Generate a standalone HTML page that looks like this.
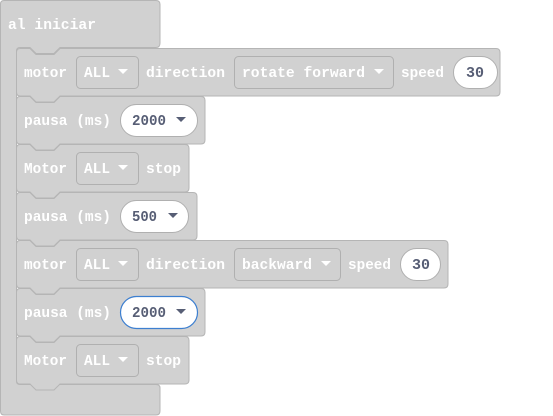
<!DOCTYPE html>
<html><head><meta charset="utf-8"><style>
html,body{margin:0;padding:0;background:#fff;width:553px;height:416px;overflow:hidden}
.w{fill:#fff}.d{fill:#575e75}
.b{fill:#d1d1d1;stroke:#b5b5b5;stroke-width:1}
.dd{fill:#d1d1d1;stroke:#b0b0b0;stroke-width:1}
.p{fill:#fff;stroke:#b0b0b0;stroke-width:1}
</style></head><body>
<svg width="553" height="416" viewBox="0 0 553 416" xmlns="http://www.w3.org/2000/svg">
<path class="b" d="M4,0.5 H156 Q160,0.5 160,4.5 V43 Q160,47.5 156,47.5 H60 L54,53.5 H36 L30,47.5 H20 Q16.5,47.5 16.5,51 V381 Q16.5,384.5 20,384.5 H156 Q160,384.5 160,388 V411 Q160,415 156,415 H4 Q0.5,415 0.5,411 V4 Q0.5,0.5 4,0.5 Z"/>
<path class="b" d="M20,48.5 H30 L36,54.5 H54 L60,48.5 H496 Q500,48.5 500,52.5 V92 Q500,96 496,96 H60 L54,102 H36 L30,96 H20 Q16.5,96 16.5,92 V52.5 Q16.5,48.5 20,48.5 Z"/>
<rect class="dd" x="76.5" y="56.5" width="62" height="32" rx="4"/>
<path class="w" d="M118,69 h10 l-5,5 z"/>
<rect class="dd" x="234.5" y="56.5" width="159" height="32" rx="4"/>
<path class="w" d="M374,69 h10 l-5,5 z"/>
<rect class="p" x="453.5" y="56.5" width="44" height="32" rx="16"/>
<path class="b" d="M20,96.5 H30 L36,102.5 H54 L60,96.5 H201 Q205,96.5 205,100.5 V140 Q205,144 201,144 H60 L54,150 H36 L30,144 H20 Q16.5,144 16.5,140 V100.5 Q16.5,96.5 20,96.5 Z"/>
<rect class="p" x="120.5" y="104.5" width="77" height="32" rx="16"/>
<path class="d" d="M176,117 h10 l-5,5 z"/>
<path class="b" d="M20,144.5 H30 L36,150.5 H54 L60,144.5 H185 Q189,144.5 189,148.5 V188 Q189,192 185,192 H60 L54,198 H36 L30,192 H20 Q16.5,192 16.5,188 V148.5 Q16.5,144.5 20,144.5 Z"/>
<rect class="dd" x="76.5" y="152.5" width="62" height="32" rx="4"/>
<path class="w" d="M118,165 h10 l-5,5 z"/>
<path class="b" d="M20,192.5 H30 L36,198.5 H54 L60,192.5 H193 Q197,192.5 197,196.5 V236 Q197,240 193,240 H60 L54,246 H36 L30,240 H20 Q16.5,240 16.5,236 V196.5 Q16.5,192.5 20,192.5 Z"/>
<rect class="p" x="120.5" y="200.5" width="68" height="32" rx="16"/>
<path class="d" d="M168,213 h10 l-5,5 z"/>
<path class="b" d="M20,240.5 H30 L36,246.5 H54 L60,240.5 H444 Q448,240.5 448,244.5 V284 Q448,288 444,288 H60 L54,294 H36 L30,288 H20 Q16.5,288 16.5,284 V244.5 Q16.5,240.5 20,240.5 Z"/>
<rect class="dd" x="76.5" y="248.5" width="62" height="32" rx="4"/>
<path class="w" d="M118,261 h10 l-5,5 z"/>
<rect class="dd" x="234.5" y="248.5" width="106" height="32" rx="4"/>
<path class="w" d="M321,261 h10 l-5,5 z"/>
<rect class="p" x="400.5" y="248.5" width="40" height="32" rx="16"/>
<path class="b" d="M20,288.5 H30 L36,294.5 H54 L60,288.5 H201 Q205,288.5 205,292.5 V332 Q205,336 201,336 H60 L54,342 H36 L30,336 H20 Q16.5,336 16.5,332 V292.5 Q16.5,288.5 20,288.5 Z"/>
<rect x="120.5" y="296.5" width="77" height="32" rx="16" fill="#fff" stroke="#3d7fd0" stroke-width="1.2"/>
<path class="d" d="M176,309 h10 l-5,5 z"/>
<path class="b" d="M20,336.5 H30 L36,342.5 H54 L60,336.5 H185 Q189,336.5 189,340.5 V380 Q189,384 185,384 H60 L54,390 H36 L30,384 H20 Q16.5,384 16.5,380 V340.5 Q16.5,336.5 20,336.5 Z"/>
<rect class="dd" x="76.5" y="344.5" width="62" height="32" rx="4"/>
<path class="w" d="M118,357 h10 l-5,5 z"/>

<g font-family="Liberation Mono, DejaVu Sans Mono, monospace" font-weight="bold" font-size="14.5" lengthAdjust="spacingAndGlyphs">
<text class="w" x="8" y="29" textLength="88" lengthAdjust="spacingAndGlyphs">al iniciar</text>
<text class="w" x="24" y="77" textLength="43" lengthAdjust="spacingAndGlyphs">motor</text>
<text class="w" x="84" y="77" textLength="26" lengthAdjust="spacingAndGlyphs">ALL</text>
<text class="w" x="146" y="77" textLength="79" lengthAdjust="spacingAndGlyphs">direction</text>
<text class="w" x="242" y="77" textLength="123" lengthAdjust="spacingAndGlyphs">rotate forward</text>
<text class="w" x="401" y="77" textLength="43" lengthAdjust="spacingAndGlyphs">speed</text>
<text class="d" x="466" y="77" textLength="18" lengthAdjust="spacingAndGlyphs">30</text>
<text class="w" x="24" y="125" textLength="87" lengthAdjust="spacingAndGlyphs">pausa (ms)</text>
<text class="d" x="132" y="125" textLength="34" lengthAdjust="spacingAndGlyphs">2000</text>
<text class="w" x="24" y="173" textLength="43" lengthAdjust="spacingAndGlyphs">Motor</text>
<text class="w" x="84" y="173" textLength="26" lengthAdjust="spacingAndGlyphs">ALL</text>
<text class="w" x="146" y="173" textLength="35" lengthAdjust="spacingAndGlyphs">stop</text>
<text class="w" x="24" y="221" textLength="87" lengthAdjust="spacingAndGlyphs">pausa (ms)</text>
<text class="d" x="132" y="221" textLength="25" lengthAdjust="spacingAndGlyphs">500</text>
<text class="w" x="24" y="269" textLength="43" lengthAdjust="spacingAndGlyphs">motor</text>
<text class="w" x="84" y="269" textLength="26" lengthAdjust="spacingAndGlyphs">ALL</text>
<text class="w" x="146" y="269" textLength="79" lengthAdjust="spacingAndGlyphs">direction</text>
<text class="w" x="242" y="269" textLength="70" lengthAdjust="spacingAndGlyphs">backward</text>
<text class="w" x="348" y="269" textLength="43" lengthAdjust="spacingAndGlyphs">speed</text>
<text class="d" x="412" y="269" textLength="18" lengthAdjust="spacingAndGlyphs">30</text>
<text class="w" x="24" y="317" textLength="87" lengthAdjust="spacingAndGlyphs">pausa (ms)</text>
<text class="d" x="132" y="317" textLength="34" lengthAdjust="spacingAndGlyphs">2000</text>
<text class="w" x="24" y="365" textLength="43" lengthAdjust="spacingAndGlyphs">Motor</text>
<text class="w" x="84" y="365" textLength="26" lengthAdjust="spacingAndGlyphs">ALL</text>
<text class="w" x="146" y="365" textLength="35" lengthAdjust="spacingAndGlyphs">stop</text>
</g>
</svg>
</body></html>
